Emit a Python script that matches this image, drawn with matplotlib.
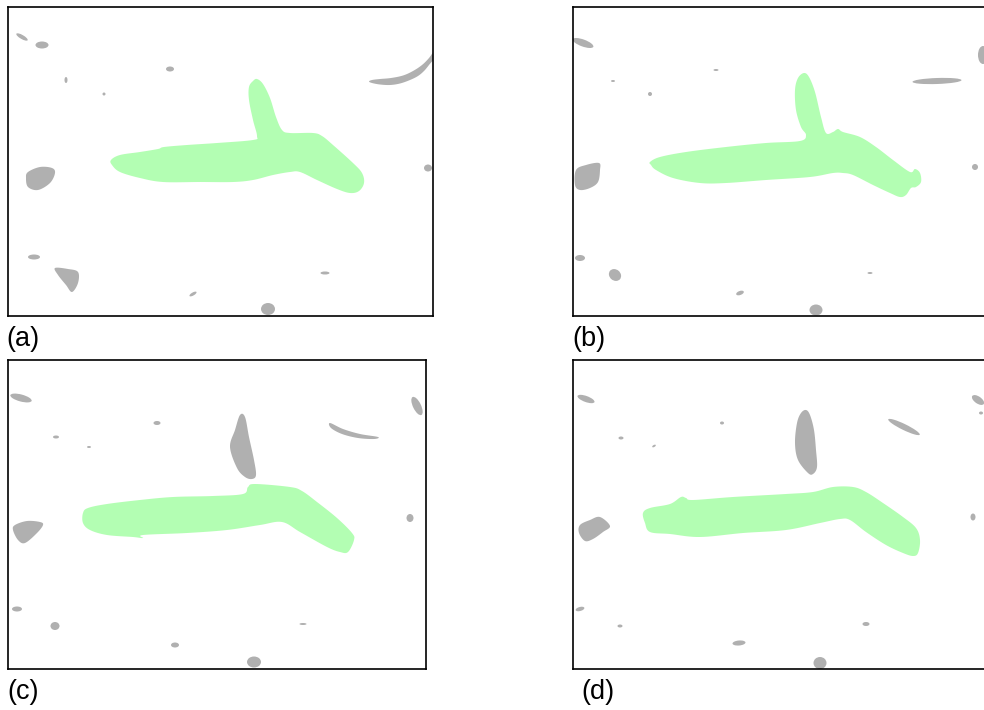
import numpy as np
import matplotlib
matplotlib.use("Agg")
import matplotlib.pyplot as plt
from matplotlib.patches import Polygon, Ellipse

FIG_W, FIG_H = 984, 710
GREEN = "#b3feb3"
GREY = "#b0b0b0"

# ---- panel frames in figure pixels: left, top, width, height ----
frame_a = (8, 7, 425, 309)
frame_b = (573, 7, 425, 309)
frame_c = (8, 360, 418, 309)
frame_d = (573, 360, 418, 309)

labels = ["(a)", "(b)", "(c)", "(d)"]
label_xy = [(6, 346), (572, 346), (7, 699), (581, 699)]

# ---- segmented object outlines (panel pixel coordinates, y downward) ----
green_a = [(103, 153), (112, 148), (132, 145), (150, 142), (156, 140), (179, 138),
           (209, 136), (245, 133), (249, 129), (245, 113), (241, 93), (241, 80),
           (245, 74), (249, 72), (255, 77), (262, 91), (268, 110), (274, 123),
           (282, 126), (305, 126), (314, 129), (325, 138), (345, 156), (354, 166),
           (356, 176), (351, 184), (342, 186), (329, 182), (309, 173), (292, 165),
           (282, 165), (265, 168), (245, 173), (225, 175), (192, 175), (155, 175),
           (132, 171), (112, 165), (104, 158)]

green_b = [(77, 155), (87, 150), (113, 145), (153, 140), (193, 136), (227, 134),
           (233, 128), (228, 120), (223, 103), (222, 83), (225, 71), (231, 66),
           (236, 70), (242, 85), (248, 110), (253, 126), (260, 125), (265, 122),
           (270, 125), (287, 130), (303, 140), (320, 153), (337, 165), (342, 162),
           (347, 166), (348, 175), (343, 180), (338, 181), (333, 188), (327, 190),
           (317, 186), (300, 178), (280, 168), (270, 166), (260, 166), (237, 170),
           (193, 173), (153, 176), (127, 176), (100, 171), (83, 163), (78, 158)]

green_c = [(75, 153), (80, 148), (99, 144), (132, 140), (165, 137), (205, 136),
           (235, 134), (240, 127), (247, 124), (282, 127), (294, 131), (309, 142),
           (329, 158), (344, 173), (346, 180), (340, 192), (332, 192), (319, 187),
           (292, 172), (274, 162), (252, 165), (219, 170), (179, 173), (135, 175),
           (135, 178), (125, 177), (99, 175), (82, 170), (75, 163)]

green_d = [(70, 153), (77, 148), (97, 144), (108, 137), (113, 138), (120, 140),
           (160, 137), (213, 134), (240, 132), (260, 127), (280, 127), (293, 132),
           (310, 143), (330, 157), (343, 168), (347, 180), (345, 193), (340, 196),
           (330, 193), (313, 185), (293, 172), (277, 160), (267, 159), (247, 163),
           (213, 170), (170, 173), (127, 177), (97, 174), (77, 172), (72, 163)]

# ---- background particles: irregular outlines ----
grey_poly_a = [
    [(364, 76), (372, 77.5), (382, 78), (392, 76.5), (402, 73), (410, 69), (416, 64),
     (421, 58), (427, 50), (427, 43), (421, 51), (414, 58), (405, 64), (395, 68.5),
     (383, 71), (372, 72), (364, 73), (361, 74.5)],
    [(20, 165), (32, 160), (44, 161), (47, 166), (42, 176), (30, 183), (20, 180), (18, 171)],
    [(47, 261), (60, 262), (70, 265), (70, 276), (64, 285), (58, 278), (50, 268)],
]
grey_poly_b = [
    [(3, 163), (13, 158), (26, 156), (27, 163), (25, 175), (17, 181), (7, 183), (2, 178)],
]
grey_poly_c = [
    [(232, 55), (237, 57), (241, 77), (246, 100), (248, 115), (244, 119), (237, 117),
     (229, 108), (222, 87), (227, 70)],
    [(322, 63), (335, 69), (352, 74), (370, 77), (366, 79), (350, 78), (334, 74), (323, 68)],
    [(7, 165), (19, 161), (32, 162), (35, 165), (29, 173), (17, 183), (10, 180), (5, 170)],
]
grey_poly_d = [
    [(233, 50), (237, 55), (241, 70), (243, 90), (244, 107), (240, 114), (235, 113),
     (225, 100), (222, 83), (224, 63), (228, 53)],
    [(7, 165), (17, 160), (27, 157), (37, 166), (30, 172), (20, 179), (12, 181), (6, 173)],
]

# ---- background particles: ellipses (cx, cy, width, height, angle) ----
grey_ell_a = [(14, 30, 13, 4, 30), (34, 38, 13, 7, 0), (162, 62, 8, 5, 0),
              (58, 73, 3, 6, 0), (96, 87, 3, 3, 0), (420, 161, 8, 7, 0),
              (26, 250, 12, 5, 0), (317, 266, 9, 3, 0), (185, 287, 8, 3, -30),
              (260, 302, 14, 12, 0)]
grey_ell_b = [(10, 36, 22, 7, 20), (143, 63, 5, 2, 0), (40, 74, 4, 2, 0),
              (77, 87, 4, 4, 0), (364, 74, 49, 6, -2), (410, 48, 10, 18, 0),
              (402, 160, 6, 6, 0), (7, 251, 10, 6, 0), (42, 268, 13, 11, 40),
              (167, 286, 8, 4, -20), (297, 266, 5, 2, 0), (243, 303, 13, 11, 0)]
grey_ell_c = [(13, 38, 22, 7, 15), (149, 63, 7, 4, 0), (48, 77, 6, 3, 0),
              (81, 87, 4, 2, 0), (409, 46, 20, 8, 64), (402, 158, 7, 8, 0),
              (9, 249, 10, 5, 0), (47, 266, 9, 8, 0), (167, 285, 8, 5, 0),
              (295, 264, 7, 2, 0), (246, 302, 14, 11, 0)]
grey_ell_d = [(13, 39, 18, 6, 20), (149, 63, 4, 3, 0), (48, 78, 5, 3, 0),
              (81, 86, 4, 2, -30), (331, 67, 35, 6, 26), (405, 40, 14, 7, 35),
              (408, 53, 4, 3, 0), (400, 157, 5, 7, 0), (7, 249, 9, 4, -15),
              (47, 266, 5, 3, 0), (166, 283, 13, 5, -5), (293, 264, 7, 4, 0),
              (247, 303, 13, 12, 0)]

panels = [
    (frame_a, green_a, grey_poly_a, grey_ell_a),
    (frame_b, green_b, grey_poly_b, grey_ell_b),
    (frame_c, green_c, grey_poly_c, grey_ell_c),
    (frame_d, green_d, grey_poly_d, grey_ell_d),
]


def smooth_closed(pts, n=10):
    """Closed Catmull-Rom curve through the outline points."""
    P = np.asarray(pts, float)
    N = len(P)
    t = np.linspace(0, 1, n, endpoint=False)[:, None]
    segs = []
    for i in range(N):
        p0, p1, p2, p3 = P[i - 1], P[i], P[(i + 1) % N], P[(i + 2) % N]
        segs.append(0.5 * (2 * p1 + (-p0 + p2) * t
                           + (2 * p0 - 5 * p1 + 4 * p2 - p3) * t ** 2
                           + (-p0 + 3 * p1 - 3 * p2 + p3) * t ** 3))
    return np.vstack(segs)


fig = plt.figure(figsize=(FIG_W / 100, FIG_H / 100), dpi=100)
fig.patch.set_facecolor("white")

for (left, top, w, h), green, polys, ells in panels:
    ax = fig.add_axes([left / FIG_W, 1 - (top + h) / FIG_H, w / FIG_W, h / FIG_H])
    ax.set_xlim(0, w)
    ax.set_ylim(h, 0)
    ax.set_xticks([])
    ax.set_yticks([])
    for s in ax.spines.values():
        s.set_linewidth(1.2)
        s.set_color("black")
    for poly in polys:
        ax.add_patch(Polygon(smooth_closed(poly), closed=True, facecolor=GREY,
                             edgecolor="none"))
    for cx, cy, ew, eh, ang in ells:
        ax.add_patch(Ellipse((cx, cy), ew, eh, angle=ang, facecolor=GREY,
                             edgecolor="none"))
    ax.add_patch(Polygon(smooth_closed(green), closed=True, facecolor=GREEN,
                         edgecolor="none"))

for text, (x, y) in zip(labels, label_xy):
    fig.text(x / FIG_W, 1 - y / FIG_H, text, fontsize=19.5,
             family=["Liberation Sans", "DejaVu Sans"], ha="left", va="baseline")

fig.savefig("out.png", dpi=100, facecolor="white")
